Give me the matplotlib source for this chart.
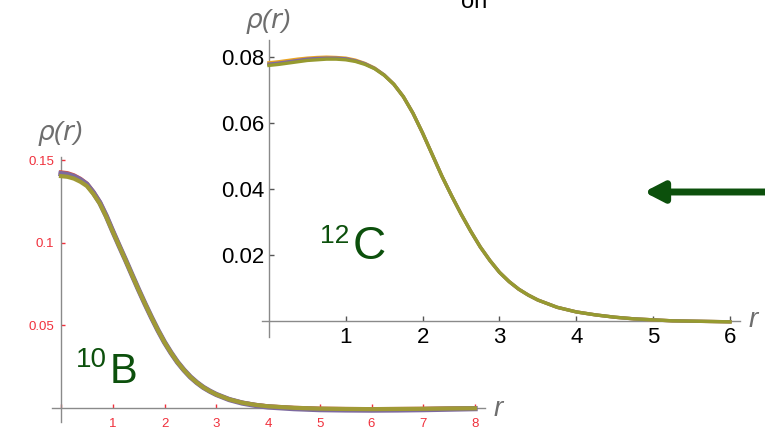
import matplotlib
matplotlib.use("Agg")
import matplotlib.pyplot as plt

W, H = 765, 430

# 10B density profiles (three fits of the same nucleus)
r_b = [0, 0.125, 0.25, 0.375, 0.5, 0.625, 0.75, 0.875, 1.0, 1.125, 1.25, 1.375,
       1.5, 1.625, 1.75, 1.875, 2.0, 2.125, 2.25, 2.375, 2.5, 2.625, 2.75, 2.875,
       3.0, 3.25, 3.5, 3.75, 4.0, 4.5, 5.0, 5.5, 6.0, 6.5, 7.0, 7.5, 8.0]
rho_b_red = [0.1428, 0.1423, 0.1410, 0.1389, 0.1360, 0.1310, 0.1248, 0.1166, 0.1074,
             0.0984, 0.0896, 0.0805, 0.0716, 0.0630, 0.0548, 0.0470, 0.0398, 0.0335,
             0.0278, 0.0230, 0.0188, 0.0154, 0.0125, 0.0102, 0.0082, 0.0052, 0.0032,
             0.0019, 0.0010, 0.0001, -0.0004, -0.0006, -0.0007, -0.0006, -0.0005,
             -0.0003, -0.0002]
rho_b_pur = [0.1420, 0.1415, 0.1403, 0.1383, 0.1355, 0.1305, 0.1244, 0.1163, 0.1071,
             0.0982, 0.0895, 0.0805, 0.0716, 0.0630, 0.0548, 0.0470, 0.0398, 0.0335,
             0.0278, 0.0230, 0.0188, 0.0154, 0.0125, 0.0102, 0.0082, 0.0051, 0.0030,
             0.0016, 0.0006, -0.0004, -0.0010, -0.0012, -0.0013, -0.0012, -0.0010,
             -0.0007, -0.0004]
rho_b_olv = [0.1405, 0.1401, 0.1390, 0.1371, 0.1345, 0.1297, 0.1238, 0.1158, 0.1068,
             0.0981, 0.0893, 0.0804, 0.0715, 0.0630, 0.0548, 0.0470, 0.0398, 0.0335,
             0.0278, 0.0230, 0.0188, 0.0154, 0.0125, 0.0102, 0.0082, 0.0052, 0.0032,
             0.0019, 0.0010, 0.0001, -0.0004, -0.0006, -0.0007, -0.0006, -0.0005,
             -0.0003, -0.0002]

# 12C density profiles
r_c = [0, 0.125, 0.25, 0.375, 0.5, 0.625, 0.75, 0.875, 1.0, 1.125, 1.25, 1.375,
       1.5, 1.625, 1.75, 1.875, 2.0, 2.125, 2.25, 2.375, 2.5, 2.625, 2.75, 2.875,
       3.0, 3.125, 3.25, 3.375, 3.5, 3.75, 4.0, 4.25, 4.5, 4.75, 5.0, 5.25, 5.5,
       5.75, 6.0]
rho_c_org = [0.0783, 0.0786, 0.0790, 0.0794, 0.0797, 0.0799, 0.0800, 0.0799, 0.0797,
             0.0791, 0.0781, 0.0767, 0.0746, 0.0718, 0.0680, 0.0630, 0.0570, 0.0505,
             0.0440, 0.0381, 0.0325, 0.0273, 0.0225, 0.0184, 0.0148, 0.0120, 0.0097,
             0.0079, 0.0064, 0.0042, 0.0028, 0.0019, 0.0012, 0.0007, 0.0004, 0.0001,
             0.0000, -0.0001, -0.0002]
rho_c_pur = [0.0779, 0.0782, 0.0786, 0.0790, 0.0794, 0.0796, 0.0797, 0.0797, 0.0795,
             0.0789, 0.0780, 0.0766, 0.0746, 0.0718, 0.0680, 0.0630, 0.0570, 0.0505,
             0.0440, 0.0381, 0.0325, 0.0273, 0.0225, 0.0184, 0.0148, 0.0120, 0.0097,
             0.0079, 0.0064, 0.0042, 0.0028, 0.0019, 0.0012, 0.0007, 0.0004, 0.0001,
             0.0000, -0.0001, -0.0002]
rho_c_olv = [0.0775, 0.0778, 0.0782, 0.0786, 0.0790, 0.0792, 0.0794, 0.0794, 0.0792,
             0.0787, 0.0778, 0.0765, 0.0745, 0.0718, 0.0680, 0.0630, 0.0570, 0.0505,
             0.0440, 0.0381, 0.0325, 0.0273, 0.0225, 0.0184, 0.0148, 0.0120, 0.0097,
             0.0079, 0.0064, 0.0042, 0.0028, 0.0019, 0.0012, 0.0007, 0.0004, 0.0001,
             0.0000, -0.0001, -0.0002]

b_xticks = [0, 1, 2, 3, 4, 5, 6, 7, 8]
b_xlabels = ["", "1", "2", "3", "4", "5", "6", "7", "8"]
b_yticks = [0.05, 0.1, 0.15]
b_ylabels = ["0.05", "0.1", "0.15"]
c_xticks = [1, 2, 3, 4, 5, 6]
c_xlabels = ["1", "2", "3", "4", "5", "6"]
c_yticks = [0.02, 0.04, 0.06, 0.08]
c_ylabels = ["0.02", "0.04", "0.06", "0.08"]

GREEN = "#0c500c"
AXC = "#8a8a8a"
LAB = "#6e6e6e"
plt.rcParams["font.family"] = ["Liberation Sans", "DejaVu Sans"]


def box(x0, y0, x1, y1):
    # pixel box (top-left origin) -> figure fraction rect
    return [x0 / W, 1 - y1 / H, (x1 - x0) / W, (y1 - y0) / H]


def px(x, y):
    return x / W, 1 - y / H


def style(ax, tickc, labc, fs, tl, padx, pady):
    for s in ("top", "right"):
        ax.spines[s].set_visible(False)
    for s in ("left", "bottom"):
        ax.spines[s].set_position(("data", 0))
        ax.spines[s].set_color(AXC)
        ax.spines[s].set_linewidth(1.0)
    ax.set_facecolor("none")
    ax.tick_params(direction="in", length=tl, width=1, color=tickc,
                   labelcolor=labc, labelsize=fs)
    ax.tick_params(axis="x", pad=padx)
    ax.tick_params(axis="y", pad=pady)


fig = plt.figure(figsize=(W / 100, H / 100), dpi=100)

# ---- 10B panel
ax1 = fig.add_axes(box(52, 157, 485, 422))
ax1.set_xlim(-0.174, 8.193)
ax1.set_ylim(-0.0085, 0.1521)
ax1.plot(r_b, rho_b_red, color="#d4574a", lw=3.0, zorder=3)
ax1.plot(r_b, rho_b_pur, color="#7d6aa0", lw=3.8, zorder=3)
ax1.plot(r_b, rho_b_olv, color="#a09a36", lw=3.0, zorder=4)
style(ax1, "#f0303c", "#f0303c", 9.5, 3, 7, 5)
ax1.set_xticks(b_xticks, b_xlabels)
ax1.set_yticks(b_yticks, b_ylabels)
fig.text(*px(60, 133), r"$\rho$($r$)", ha="center", va="center",
         fontsize=19, color=LAB, style="italic")
fig.text(*px(498, 409), "r", ha="center", va="center",
         fontsize=20, color=LAB, style="italic")
fig.text(*px(76, 367), "10", ha="left", va="baseline", fontsize=20, color=GREEN)
fig.text(*px(110, 383), "B", ha="left", va="baseline", fontsize=30, color=GREEN)

# ---- 12C panel
ax2 = fig.add_axes(box(262, 40, 740, 337))
ax2.set_xlim(-0.09, 6.13)
ax2.set_ylim(-0.0048, 0.0852)
for y, col in [(rho_c_org, "#eaa421"), (rho_c_pur, "#8069a0"), (rho_c_olv, "#969a30")]:
    ax2.plot(r_c, y, color=col, lw=2.4, zorder=3)
style(ax2, "#555555", "black", 16, 3.5, 4, 3)
ax2.set_xticks(c_xticks, c_xlabels)
ax2.set_yticks(c_yticks, c_ylabels)
fig.text(*px(268, 22), r"$\rho$($r$)", ha="center", va="center",
         fontsize=19, color=LAB, style="italic")
fig.text(*px(753, 320), "r", ha="center", va="center",
         fontsize=20, color=LAB, style="italic")
fig.text(*px(320, 243), "12", ha="left", va="baseline", fontsize=19, color=GREEN)
fig.text(*px(353, 259), "C", ha="left", va="baseline", fontsize=33, color=GREEN)

# heading text clipped at the top edge
fig.text(*px(461, 8), "on", ha="left", va="baseline", fontsize=17, color="black")

# arrow pointing at the 12C panel
ax2.annotate("", xy=(644, H - 192), xytext=(775, H - 192),
             xycoords="figure pixels", textcoords="figure pixels",
             arrowprops=dict(arrowstyle="-|>,head_length=0.58,head_width=0.3",
                             mutation_scale=20, lw=5, color=GREEN,
                             shrinkA=0, shrinkB=0), annotation_clip=False)

fig.savefig("out.png", dpi=100)
